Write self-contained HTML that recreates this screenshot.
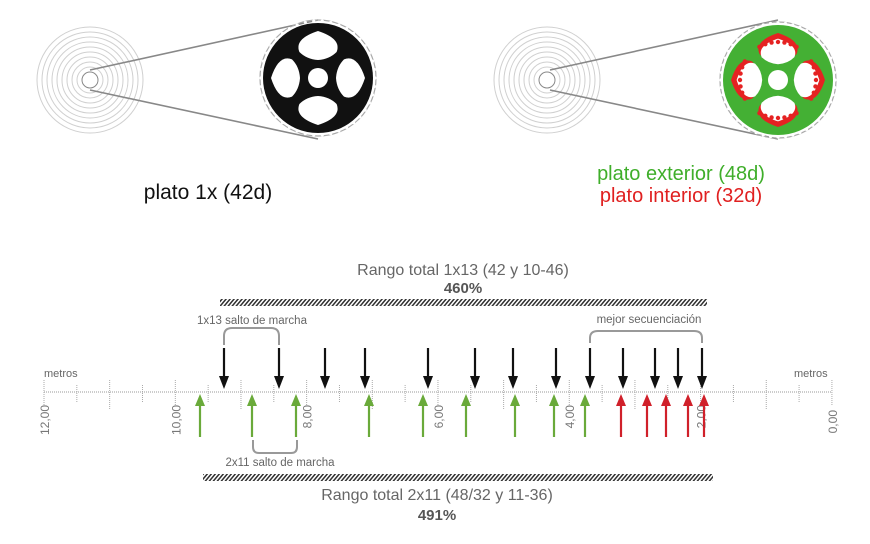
<!DOCTYPE html>
<html><head><meta charset="utf-8"><style>
html,body{margin:0;padding:0;background:#fff;}
svg{display:block;font-family:"Liberation Sans",sans-serif;}
</style></head><body>
<svg id="s" width="870" height="544" viewBox="0 0 870 544" xmlns="http://www.w3.org/2000/svg">
<defs>
<pattern id="h" width="4" height="8" patternUnits="userSpaceOnUse" patternTransform="skewX(-40)">
<rect x="0" y="0" width="2" height="8" fill="#333"/>
</pattern>
</defs>
<g id="g"></g>
<text x="208" y="199" font-size="21" text-anchor="middle" fill="#111">plato 1x (42d)</text>
<text x="681" y="180" font-size="20" text-anchor="middle" fill="#3fae2a">plato exterior (48d)</text>
<text x="681" y="202" font-size="20" text-anchor="middle" fill="#e02020">plato interior (32d)</text>
<text x="463" y="275" font-size="16" text-anchor="middle" fill="#666">Rango total 1x13 (42 y 10-46)</text>
<text x="463" y="293" font-size="15" font-weight="bold" text-anchor="middle" fill="#555">460%</text>
<text x="437" y="500" font-size="16" text-anchor="middle" fill="#666">Rango total 2x11 (48/32 y 11-36)</text>
<text x="437" y="520" font-size="15" font-weight="bold" text-anchor="middle" fill="#555">491%</text>
<rect x="220" y="299" width="487" height="7" fill="url(#h)"/>
<rect x="203" y="474" width="510" height="7" fill="url(#h)"/>
<text x="252" y="324" font-size="11.5" text-anchor="middle" fill="#666">1x13 salto de marcha</text>
<text x="280" y="466" font-size="11.5" text-anchor="middle" fill="#666">2x11 salto de marcha</text>
<text x="649" y="323" font-size="11.5" text-anchor="middle" fill="#666">mejor secuenciación</text>
<text x="44" y="377" font-size="11" fill="#666">metros</text>
<text x="794" y="377" font-size="11" fill="#666">metros</text>
<path d="M224,345 V336 Q224,328 232,328 H271 Q279,328 279,336 V345" fill="none" stroke="#999" stroke-width="2"/>
<path d="M253,440 V447 Q253,453 259,453 H291 Q297,453 297,447 V440" fill="none" stroke="#999" stroke-width="2"/>
<path d="M590,343 V338 Q590,331 598,331 H694 Q702,331 702,338 V343" fill="none" stroke="#999" stroke-width="2"/>
</svg>
<script>
var NS="http://www.w3.org/2000/svg",g=document.getElementById("g");
function el(t,a,p){var e=document.createElementNS(NS,t);for(var k in a)e.setAttribute(k,a[k]);(p||g).appendChild(e);return e;}
[[90,80],[547,80]].forEach(function(c){
 for(var r=8;r<=57;r+=5)el("circle",{cx:c[0],cy:c[1],r:r,fill:"none",stroke:r<12?"#888":"#d0d0d0","stroke-width":1});
});
function win(cx,cy,k,s,fill){
 // quadrilateral-ish window pointing outward
 var a=k*Math.PI/2;
 function p(r,t){var ang=a+t;return (cx+r*Math.cos(ang)).toFixed(1)+","+(cy+r*Math.sin(ang)).toFixed(1);}
 var d="M"+p(18*s,0)+" Q"+p(22*s,0.55)+" "+p(32*s,0.62)+" Q"+p(46*s,0.55)+" "+p(47*s,0)+" Q"+p(46*s,-0.55)+" "+p(32*s,-0.62)+" Q"+p(22*s,-0.55)+" "+p(18*s,0)+"z";
 el("path",{d:d,fill:fill});
}
function ring(cx,cy,col,inner){
 el("line",{x1:90+(cx-318),y1:70,x2:cx,y2:20,stroke:"#888","stroke-width":1.6});
 el("line",{x1:90+(cx-318),y1:90,x2:cx,y2:139,stroke:"#888","stroke-width":1.6});
 el("circle",{cx:cx,cy:cy,r:58,fill:"none",stroke:"#aaa","stroke-width":1.2});
 el("circle",{cx:cx,cy:cy,r:55,fill:col});
 var n=inner?48:42;
 for(var i=0;i<n;i++){var a=i/n*2*Math.PI;el("circle",{cx:cx+57*Math.cos(a),cy:cy+57*Math.sin(a),r:1.6,fill:"#fff"});}
 for(var k=0;k<4;k++){
  if(inner){win(cx,cy,k,1,"#e52222");win(cx,cy,k,0.88,"#fff");
   var a0=k*Math.PI/2;
   for(var j=-3;j<=3;j++){var t=a0+j*0.17;el("circle",{cx:cx+38*Math.cos(t),cy:cy+38*Math.sin(t),r:2.2,fill:"#e52222"});}
  } else win(cx,cy,k,1,"#fff");
 }
 el("circle",{cx:cx,cy:cy,r:10,fill:"#fff"});
}
ring(318,78,"#111",false);
ring(778,80,"#44b034",true);
var Y=392;
el("line",{x1:44,y1:Y,x2:832,y2:Y,stroke:"#999","stroke-width":1,"stroke-dasharray":"1,1"});
for(var i=0;i<=24;i++){var x=44+i*32.83;var big=i%2==0;
 el("line",{x1:x,y1:big?380:385,x2:x,y2:big?(i%4==0?405:410):402,stroke:"#aaa","stroke-width":1,"stroke-dasharray":"1,1"});}
["12,00","10,00","8,00","6,00","4,00","2,00","0,00"].forEach(function(t,i){
 var x=49+i*131.3,y=i==6?410:405;var e=el("text",{x:x,y:y,"font-size":12,fill:"#777","text-anchor":"end",transform:"rotate(-90 "+x+" "+y+")"});e.textContent=t;});
function arr(x,up,col){
 if(up){el("line",{x1:x,y1:437,x2:x,y2:404,stroke:col,"stroke-width":2.2});el("path",{d:"M"+(x-5)+",406 L"+x+",394 L"+(x+5)+",406z",fill:col});}
 else{el("line",{x1:x,y1:348,x2:x,y2:378,stroke:col,"stroke-width":2.2});el("path",{d:"M"+(x-5)+",376 L"+x+",389 L"+(x+5)+",376z",fill:col});}
}
[224,279,325,365,428,475,513,556,590,623,655,678,702].forEach(function(x){arr(x,false,"#111");});
[200,252,296,369,423,466,515,554,585].forEach(function(x){arr(x,true,"#6aaa3a");});
[621,647,666,688,704].forEach(function(x){arr(x,true,"#d0202a");});
</script>
</body></html>
